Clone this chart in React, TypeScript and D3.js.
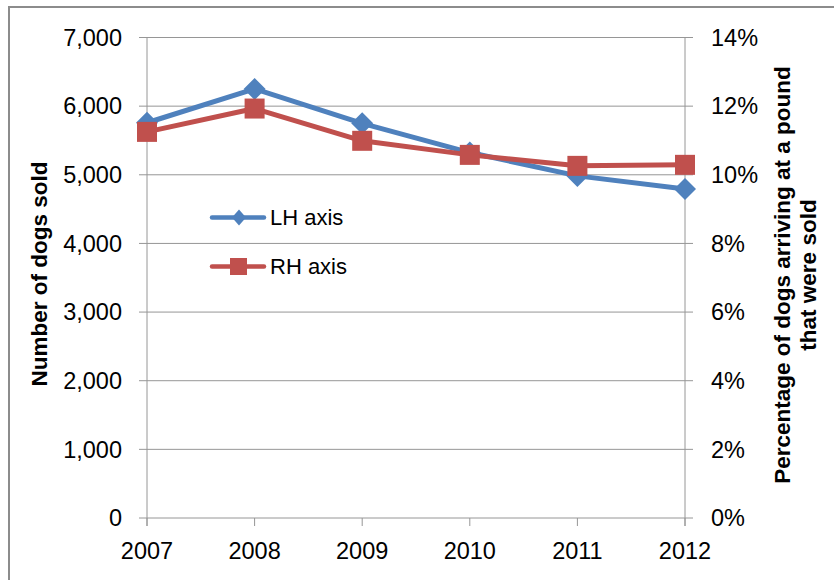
import React from "react";
import * as d3 from "d3";

const years = ["2007", "2008", "2009", "2010", "2011", "2012"];
const lhValues = [5758, 6251, 5749, 5324, 4984, 4792];
const rhValues = [0.1125, 0.1193, 0.1099, 0.1058, 0.1026, 0.1029];
const leftTicks = [0, 1000, 2000, 3000, 4000, 5000, 6000, 7000];
const rightTicks = [0, 0.02, 0.04, 0.06, 0.08, 0.1, 0.12, 0.14];
const seriesNames = ["LH axis", "RH axis"];

const W = 834;
const H = 580;
const margin = { left: 147, right: 834 - 685, top: 37.5, bottom: 580 - 518 };
const BLUE = "#4F81BD";
const RED = "#C0504D";
const FONT = "'Liberation Sans', Arial, sans-serif";
const TICK_FS = 23.5;

export default function App() {
  const x = d3
    .scalePoint<string>()
    .domain(years)
    .range([margin.left, W - margin.right]);
  const yL = d3.scaleLinear().domain([0, 7000]).range([H - margin.bottom, margin.top]);
  const yR = d3.scaleLinear().domain([0, 0.14]).range([H - margin.bottom, margin.top]);
  const fmtL = d3.format(",");
  const fmtR = d3.format(".0%");

  const lineL = d3
    .line<number>()
    .x((_, i) => x(years[i]) as number)
    .y((d) => yL(d));
  const lineR = d3
    .line<number>()
    .x((_, i) => x(years[i]) as number)
    .y((d) => yR(d));

  const x0 = margin.left;
  const x1 = W - margin.right;
  const yb = H - margin.bottom;

  const diamond = (cx: number, cy: number, rx: number, ry: number) =>
    `M${cx},${cy - ry}L${cx + rx},${cy}L${cx},${cy + ry}L${cx - rx},${cy}Z`;

  return (
    <svg
      width={W}
      height={H}
      style={{ position: "absolute", left: 0, top: 0, background: "#fff" }}
      fontFamily={FONT}
    >
      <rect x={0} y={0} width={W} height={H} fill="#fff" />
      {/* frame */}
      <rect x={9} y={7} width={W + 20} height={H + 20} fill="none" stroke="#8c8c8c" strokeWidth={2} />

      {/* gridlines */}
      {leftTicks.map((t) => (
        <line key={"g" + t} x1={x0 - 8} x2={x1 + 8} y1={yL(t)} y2={yL(t)} stroke="#969696" strokeWidth={1} />
      ))}
      {/* axes */}
      <line x1={x0} x2={x0} y1={yL(7000)} y2={yb + 8} stroke="#969696" strokeWidth={1} />
      <line x1={x1} x2={x1} y1={yL(7000)} y2={yb + 8} stroke="#969696" strokeWidth={1} />
      {years.map((yr) => (
        <line key={"xt" + yr} x1={x(yr)} x2={x(yr)} y1={yb} y2={yb + 8} stroke="#969696" strokeWidth={1} />
      ))}

      {/* left tick labels */}
      {leftTicks.map((t) => (
        <text key={"l" + t} x={x0 - 25} y={yL(t)} dy="0.35em" textAnchor="end" fontSize={TICK_FS} fill="#000">
          {fmtL(t)}
        </text>
      ))}
      {/* right tick labels */}
      {rightTicks.map((t) => (
        <text key={"r" + t} x={x1 + 26} y={yR(t)} dy="0.35em" textAnchor="start" fontSize={TICK_FS} fill="#000">
          {fmtR(t)}
        </text>
      ))}
      {/* x tick labels */}
      {years.map((yr) => (
        <text key={"x" + yr} x={x(yr)} y={551} dy="0.35em" textAnchor="middle" fontSize={TICK_FS} fill="#000">
          {yr}
        </text>
      ))}

      {/* axis titles */}
      <text
        transform={`translate(39,274) rotate(-90)`}
        textAnchor="middle"
        dy="0.35em"
        fontSize={22.5}
        fontWeight="bold"
        fill="#000"
      >
        Number of dogs sold
      </text>
      <text
        transform={`translate(782,275) rotate(-90)`}
        textAnchor="middle"
        dy="0.35em"
        fontSize={22.5}
        fontWeight="bold"
        fill="#000"
      >
        Percentage of dogs arriving at a pound
      </text>
      <text
        transform={`translate(808,275) rotate(-90)`}
        textAnchor="middle"
        dy="0.35em"
        fontSize={22.5}
        fontWeight="bold"
        fill="#000"
      >
        that were sold
      </text>

      {/* series */}
      <path d={lineL(lhValues) || ""} fill="none" stroke={BLUE} strokeWidth={5} strokeLinejoin="round" />
      {lhValues.map((v, i) => (
        <path key={"d" + i} d={diamond(x(years[i]) as number, yL(v), 11, 11)} fill={BLUE} />
      ))}
      <path d={lineR(rhValues) || ""} fill="none" stroke={RED} strokeWidth={5} strokeLinejoin="round" />
      {rhValues.map((v, i) => (
        <rect
          key={"s" + i}
          x={(x(years[i]) as number) - 10}
          y={yR(v) - 10}
          width={20}
          height={20}
          fill={RED}
        />
      ))}

      {/* legend */}
      <g>
        <line x1={212} x2={264} y1={217.5} y2={217.5} stroke={BLUE} strokeWidth={4.5} strokeLinecap="round" />
        <path d={diamond(239, 217.5, 7, 8)} fill={BLUE} />
        <text x={270} y={217.5} dy="0.35em" fontSize={22} fill="#000">
          {seriesNames[0]}
        </text>
        <line x1={212} x2={264} y1={266.5} y2={266.5} stroke={RED} strokeWidth={4.5} strokeLinecap="round" />
        <rect x={230} y={258} width={17} height={17} fill={RED} />
        <text x={270} y={266.5} dy="0.35em" fontSize={22} fill="#000">
          {seriesNames[1]}
        </text>
      </g>
    </svg>
  );
}
